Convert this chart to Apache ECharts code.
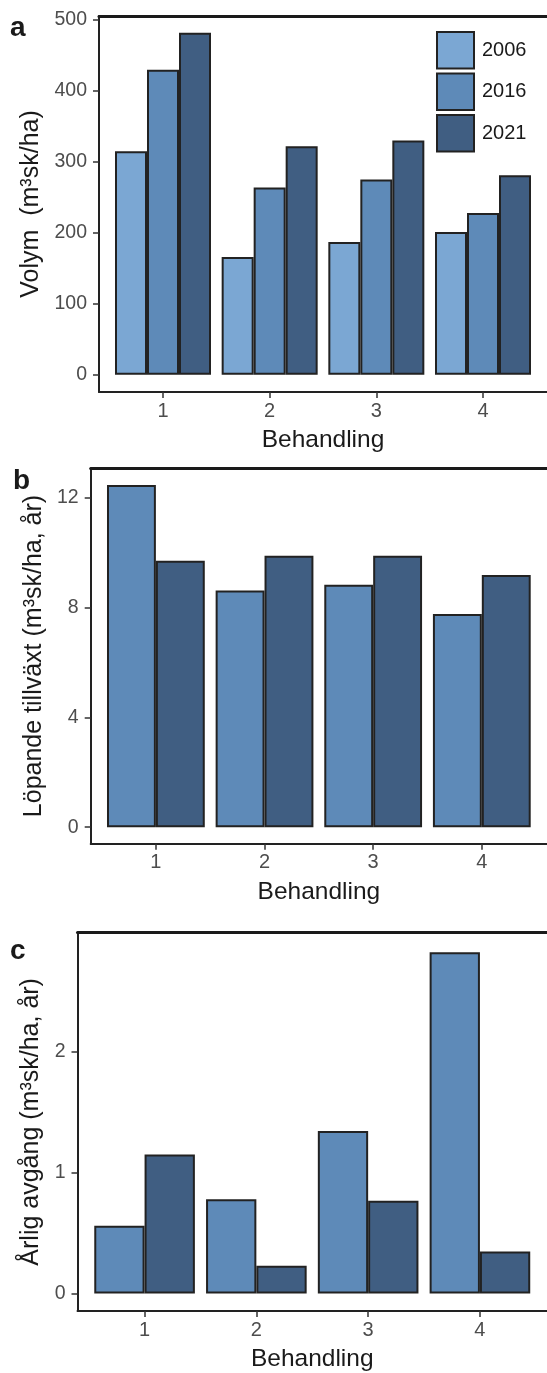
<!DOCTYPE html>
<html><head><meta charset="utf-8">
<script src="https://cdn.jsdelivr.net/npm/echarts@6/dist/echarts.min.js"></script>
<style>html,body{margin:0;padding:0;background:#fff}#c{width:547px;height:1373px}</style>
</head><body><div id="c"></div>
<script>
const categories = [1, 2, 3, 4];
const years = ['2006', '2016', '2021'];
const volym2006 = [315, 166, 187, 201];
const volym2016 = [430, 264, 275, 228];
const volym2021 = [482, 322, 330, 281];
const tillvaxt2016 = [12.47, 8.63, 8.84, 7.77];
const tillvaxt2021 = [9.71, 9.89, 9.89, 9.19];
const avgang2016 = [0.56, 0.78, 1.345, 2.825];
const avgang2021 = [1.15, 0.23, 0.767, 0.347];
const volymTicks = [0, 100, 200, 300, 400, 500];
const tillvaxtTicks = [0, 4, 8, 12];
const avgangTicks = [0, 1, 2];
const xLabel = 'Behandling';

const colors = {'2006': '#7BA7D3', '2016': '#5E8AB8', '2021': '#405E82'};
const FONT = '"Liberation Sans", Arial, sans-serif';

const panels = [
  {letter: 'a', letterPos: [10, 14], grid: {left: 99, top: 16, width: 450, height: 376},
   yRange: [-24.4, 505.6], ticks: volymTicks, yName: 'Volym  (m³sk/ha)', nameGap: 55,
   series: [['2006', volym2006], ['2016', volym2016], ['2021', volym2021]]},
  {letter: 'b', letterPos: [13, 467], grid: {left: 90.7, top: 468.3, width: 460, height: 375.4},
   yRange: [-0.6, 13.08], ticks: tillvaxtTicks, yName: 'Löpande tillväxt (m³sk/ha, år)', nameGap: 44,
   series: [['2016', tillvaxt2016], ['2021', tillvaxt2021]]},
  {letter: 'c', letterPos: [10, 937], grid: {left: 77.5, top: 932.7, width: 471, height: 379.6},
   yRange: [-0.145, 2.987], ticks: avgangTicks, yName: 'Årlig avgång (m³sk/ha, år)', nameGap: 32,
   series: [['2016', avgang2016], ['2021', avgang2021]]}
];

const grids = [], xAxes = [], yAxes = [], series = [], titles = [];
panels.forEach((p, i) => {
  grids.push(Object.assign({show: false, containLabel: false}, p.grid));
  titles.push({text: p.letter, left: p.letterPos[0], top: p.letterPos[1], padding: 0,
    textStyle: {fontSize: 28, fontWeight: 'bold', color: '#1a1a1a', fontFamily: FONT}});
  xAxes.push({
    gridIndex: i, type: 'value', min: 0.4, max: 4.6, position: 'bottom',
    axisLine: {show: true, onZero: false, lineStyle: {color: '#222', width: 2}},
    axisTick: {show: true, length: 6, customValues: categories, lineStyle: {color: '#333', width: 1.5}},
    axisLabel: {customValues: categories, fontSize: 20, color: '#4d4d4d', margin: 9, fontFamily: FONT},
    splitLine: {show: false},
    name: xLabel, nameLocation: 'middle', nameGap: 36,
    nameTextStyle: {fontSize: 24.5, color: '#1a1a1a', fontFamily: FONT}
  });
  xAxes.push({
    gridIndex: i, type: 'value', min: 0.4, max: 4.6, position: 'top',
    axisLine: {show: true, onZero: false, lineStyle: {color: '#1a1a1a', width: 3}},
    axisTick: {show: false}, axisLabel: {show: false}, splitLine: {show: false}
  });
  yAxes.push({
    gridIndex: i, type: 'value', min: p.yRange[0], max: p.yRange[1],
    axisLine: {show: true, onZero: false, lineStyle: {color: '#222', width: 2}},
    axisTick: {show: true, length: 6, customValues: p.ticks, lineStyle: {color: '#333', width: 1.5}},
    axisLabel: {customValues: p.ticks, fontSize: 19.5, color: '#4d4d4d', margin: 12, fontFamily: FONT},
    splitLine: {show: false},
    name: p.yName, nameLocation: 'middle', nameGap: p.nameGap,
    nameTextStyle: {fontSize: 25, color: '#1a1a1a', fontFamily: FONT}
  });
  p.series.forEach(([yr, vals]) => {
    series.push({
      type: 'bar', name: yr, xAxisIndex: 2 * i, yAxisIndex: i,
      data: categories.map((c, k) => [c, vals[k]]),
      barGap: '0%', barCategoryGap: '10%',
      itemStyle: {color: colors[yr], borderColor: '#222', borderWidth: 2},
      emphasis: {disabled: true}
    });
  });
});

const chart = echarts.init(document.getElementById('c'), null, {renderer: 'canvas'});
chart.setOption({
  animation: false,
  backgroundColor: '#fff',
  textStyle: {fontFamily: FONT},
  title: titles,
  legend: {
    data: years, orient: 'vertical', left: 431, top: 26,
    itemWidth: 37, itemHeight: 36.5, itemGap: 3, icon: 'rect',
    textStyle: {fontSize: 20, color: '#1a1a1a', fontFamily: FONT, padding: [0, 0, 0, 3]}
  },
  grid: grids, xAxis: xAxes, yAxis: yAxes, series: series
});
</script></body></html>
